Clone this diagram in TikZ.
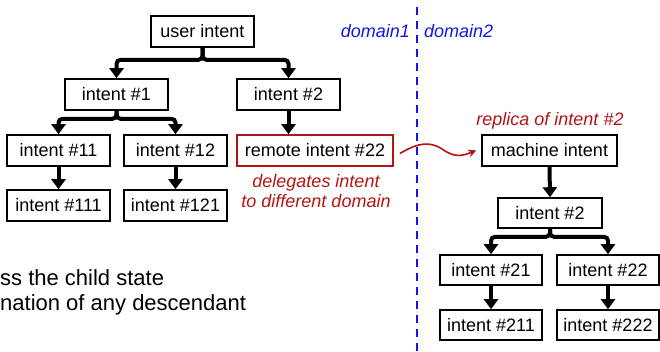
\documentclass[tikz,border=0pt]{standalone}
\usepackage{fontspec}
\setmainfont{Liberation Sans}
\usetikzlibrary{arrows.meta}
\definecolor{dred}{RGB}{180,20,20}
\definecolor{dblue}{RGB}{20,20,235}
\tikzset{
  box/.style={draw, line width=1.6pt, minimum width=103pt, minimum height=31pt, inner sep=0pt, font=\fontsize{18}{20}\selectfont},
  tarrow/.style={line width=4pt, rounded corners=4pt, -{Triangle[width=14pt,length=10pt]}},
  redlbl/.style={text=dred, font=\fontsize{18}{20}\selectfont\itshape, align=center, inner sep=0pt},
  bluelbl/.style={text=dblue, font=\fontsize{18}{20}\selectfont\itshape, inner sep=0pt},
  bigtxt/.style={font=\fontsize{22}{26}\selectfont, inner sep=0pt, anchor=west}
}
\begin{document}
\begin{tikzpicture}[x=1pt,y=-1pt]
\useasboundingbox (0,0) rectangle (660,351);
% left tree
\node[box] (ui) at (202.5,31.5) {user intent};
\node[box] (i1) at (116.5,94.5) {intent \#1};
\node[box] (i2) at (288.5,94.5) {intent \#2};
\node[box] (i11) at (58.5,150.5) {intent \#11};
\node[box] (i12) at (175.5,150.5) {intent \#12};
\node[box, draw=dred, minimum width=156pt] (r22) at (315,150.5) {remote intent \#22};
\node[box] (i111) at (58.5,205.5) {intent \#111};
\node[box] (i121) at (175.5,205.5) {intent \#121};
\node[redlbl] (deleg) at (316,191.5) {delegates intent\\to different domain};
% right tree
\node[redlbl] (rep) at (550,121) {replica of intent \#2};
\node[box, minimum width=135pt] (mi) at (549.5,150.5) {machine intent};
\node[box, minimum width=104pt, minimum height=30pt] (j2) at (550,213) {intent \#2};
\node[box, minimum width=102pt, minimum height=30pt] (j21) at (491,270) {intent \#21};
\node[box, minimum width=102pt, minimum height=30pt] (j22) at (608,270) {intent \#22};
\node[box, minimum width=102pt, minimum height=30pt] (j211) at (491,325) {intent \#211};
\node[box, minimum width=102pt, minimum height=30pt] (j222) at (608,325) {intent \#222};
% domain divider
\coordinate (dtop) at (417,7);
\coordinate (dbot) at (417,351);
\draw[dblue, line width=1.6pt, dash pattern=on 8pt off 6pt] (dtop) -- (dbot);
\node[bluelbl, anchor=east] (d1) at (410,31) {domain1};
\node[bluelbl, anchor=west] (d2) at (424,31) {domain2};
% bottom text
\node[bigtxt] (t1) at (0,278) {ss the child state};
\node[bigtxt] (t2) at (0,305) {nation of any descendant};
% tree arrows
\draw[tarrow] (ui.south) -- ++(0,12) -| (i1.north);
\draw[tarrow] (ui.south) -- ++(0,12) -| (i2.north);
\draw[tarrow] (i1.south) -- ++(0,8) -| (i11.north);
\draw[tarrow] (i1.south) -- ++(0,8) -| (i12.north);
\draw[tarrow] (i2.south) -- (i2.south |- r22.north);
\draw[tarrow] (i11.south) -- (i111.north);
\draw[tarrow] (i12.south) -- (i121.north);
\draw[tarrow] (mi.south) -- (j2.north);
\draw[tarrow] (j2.south) -- ++(0,8) -| (j21.north);
\draw[tarrow] (j2.south) -- ++(0,8) -| (j22.north);
\draw[tarrow] (j21.south) -- (j211.north);
\draw[tarrow] (j22.south) -- (j222.north);
% red wavy arrow
\draw[dred, line width=1.6pt, -{Stealth[length=8pt,width=8pt]}] ([xshift=6pt,yshift=-3pt]r22.east) .. controls (410,148) and (425,138) .. (442,149) .. controls (455,158) and (462,156) .. ([xshift=-5pt]mi.west);
\end{tikzpicture}
\end{document}
